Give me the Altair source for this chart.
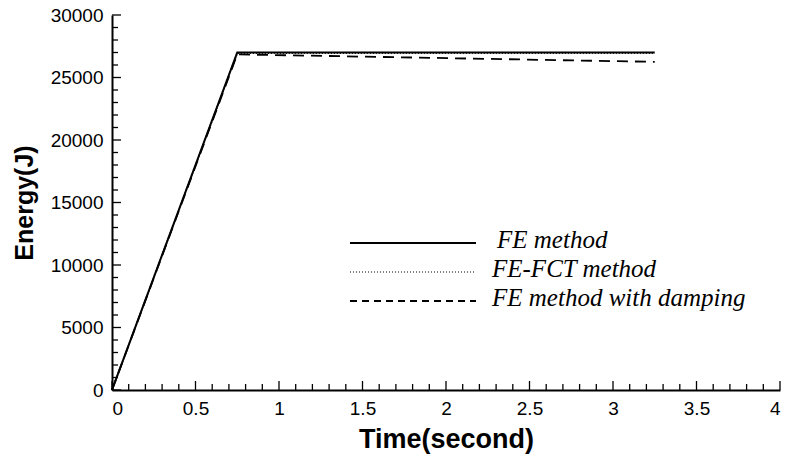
import altair as alt
import pandas as pd

# ---- data ----
time_pts = [0.0, 0.75, 3.25]
fe_energy = [0, 27000, 27000]
fct_energy = [0, 26950, 26950]
damp_energy = [0, 26850, 26250]

series_names = ["FE method", "FE-FCT method", "FE method with damping"]

x_major = [0, 0.5, 1, 1.5, 2, 2.5, 3, 3.5, 4]
x_minor = [round(i * 0.1, 1) for i in range(41) if i % 5 != 0]
y_major = [0, 5000, 10000, 15000, 20000, 25000, 30000]
y_minor = [i * 1000 for i in range(31) if i % 5 != 0]

W, H = 668, 375

rows = []
for name, vals in zip(series_names, [fe_energy, fct_energy, damp_energy]):
    for t, e in zip(time_pts, vals):
        rows.append({"series": name, "time": t, "energy": e})
df = pd.DataFrame(rows)

xscale = alt.Scale(domain=[0, 4], nice=False, zero=False)
yscale = alt.Scale(domain=[0, 30000], nice=False, zero=False)

x_axis = alt.Axis(
    values=x_major, ticks=False, tickSize=0, grid=False, domainColor="black",
    domainWidth=2, labelFont="Liberation Sans", labelFontSize=19,
    labelColor="black", labelPadding=9, title="Time(second)", format="~g",
    titleFont="Liberation Sans", titleFontSize=27, titleFontWeight="bold",
    titleColor="black", titleBaseline="alphabetic", titleY=57,
)
y_axis = alt.Axis(
    values=y_major, ticks=False, tickSize=0, grid=False, domainColor="black",
    domainWidth=2, labelFont="Liberation Sans", labelFontSize=19,
    labelColor="black", labelPadding=9, title="Energy(J)",
    titleFont="Liberation Sans", titleFontSize=25, titleFontWeight="bold",
    titleColor="black", titleBaseline="alphabetic", titleX=-80, titleY=H / 2,
    titleAngle=270, format="d",
)

dash_map = {"FE method": [1, 0], "FE-FCT method": [1, 2],
            "FE method with damping": [11, 7]}
width_map = {"FE method": 2, "FE-FCT method": 1.5, "FE method with damping": 1.8}

layers = []
for name in series_names:
    sub = df[df.series == name]
    layers.append(
        alt.Chart(sub).mark_line(color="black", strokeWidth=width_map[name],
                                 strokeDash=dash_map[name]).encode(
            x=alt.X("time:Q", scale=xscale, axis=x_axis),
            y=alt.Y("energy:Q", scale=yscale, axis=y_axis),
        )
    )

# inward ticks
def xticks(vals, length):
    return alt.Chart(pd.DataFrame({"v": vals})).mark_rule(
        color="black", strokeWidth=1.3).encode(
        x=alt.X("v:Q", scale=xscale, axis=x_axis),
        y=alt.value(H), y2=alt.value(H - length))

def yticks(vals, length):
    return alt.Chart(pd.DataFrame({"v": vals})).mark_rule(
        color="black", strokeWidth=1.3).encode(
        y=alt.Y("v:Q", scale=yscale, axis=y_axis),
        x=alt.value(0), x2=alt.value(length))

layers += [xticks(x_major, 9), xticks(x_minor, 6),
           yticks(y_major, 9), yticks(y_minor, 6)]

# legend
leg_y = [228, 257, 286]
leg_text_x = [385, 380, 380]
leg_dash = {"FE method": [1, 0], "FE-FCT method": [1, 2],
            "FE method with damping": [7, 5]}
for name, ly, tx in zip(series_names, leg_y, leg_text_x):
    d = pd.DataFrame({"label": [name]})
    layers.append(alt.Chart(d).mark_rule(
        color="black", strokeWidth=width_map[name] if name != "FE-FCT method" else 1.2,
        strokeDash=leg_dash[name]).encode(
        x=alt.value(238), x2=alt.value(364), y=alt.value(ly)))
    layers.append(alt.Chart(d).mark_text(
        align="left", baseline="alphabetic", font="Liberation Serif",
        fontStyle="italic", fontSize=25, color="black").encode(
        x=alt.value(tx), y=alt.value(ly + 5), text="label:N"))

chart = alt.layer(*layers).properties(
    width=W, height=H,
    background="white",
    autosize=alt.AutoSizeParams(type="none"),
    padding={"left": 112, "top": 15, "right": 8, "bottom": 70},
).configure_view(stroke=None)

chart.save("out.html", embed_options={"renderer": "svg", "actions": False})
